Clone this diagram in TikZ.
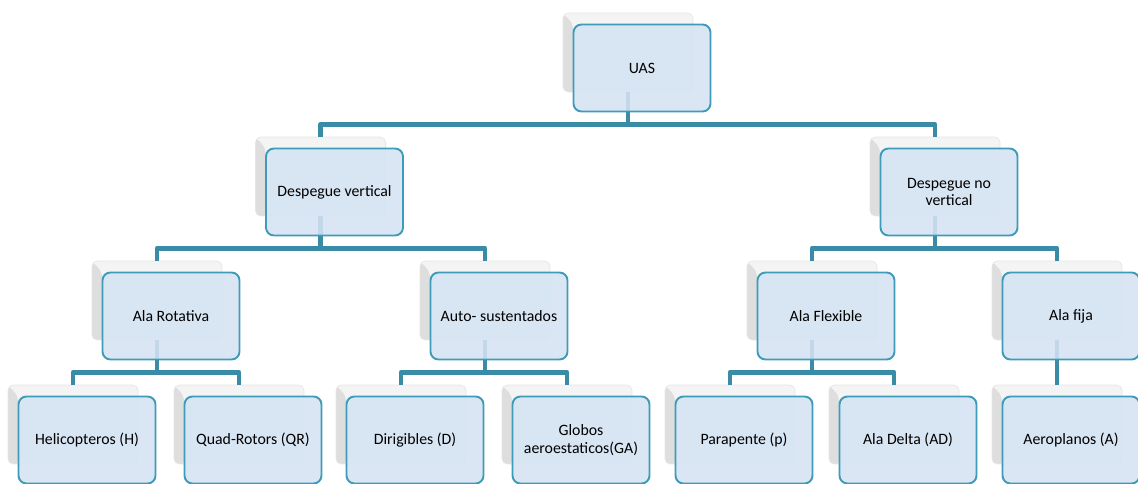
\documentclass[tikz,border=0pt]{standalone}
\usepackage{fontspec}
\setmainfont{Carlito}
\usetikzlibrary{calc}
\definecolor{boxfill}{HTML}{D5E3F3}
\definecolor{boxline}{HTML}{3E9CB8}
\definecolor{linkcol}{HTML}{3A8CA6}

\begin{document}
\begin{tikzpicture}[x=0.02cm,y=-0.02cm,line join=round]
\tikzstyle{back}=[draw=gray!20,fill=gray!9,rounded corners=3pt,minimum width=2.6cm,minimum height=1.58cm,inner sep=0pt,
  path picture={\fill[gray!26] (path picture bounding box.north west) -- ++(10,11) -- ++(0,70) -- ++(-10,0) -- cycle;}]
\tikzstyle{box}=[draw=boxline,line width=1.1pt,fill=boxfill,fill opacity=0.88,text opacity=1,rounded corners=4.5pt,
  minimum width=2.74cm,minimum height=1.74cm,inner sep=2pt,align=center]
\tikzstyle{link}=[draw=linkcol,line width=2.8pt]
\tikzset{font=\fontsize{9}{10}\selectfont}

\useasboundingbox (0,0) rectangle (1138,483);

        % back boxes
        \node[back] (bUAS)  at (628,52.5)   {};
        \node[back] (bDV)   at (320.5,176.5) {};
        \node[back] (bDNV)  at (935,176.5)  {};
        \node[back] (bAR)   at (157,300.5)  {};
        \node[back] (bAS)   at (485,300.5)  {};
        \node[back] (bAF)   at (812,300.5)  {};
        \node[back] (bFija) at (1057,300.5) {};
        \node[back] (bH)    at (73,424.5)   {};
        \node[back] (bQR)   at (239,424.5)  {};
        \node[back] (bD)    at (401,424.5)  {};
        \node[back] (bGA)   at (567,424.5)  {};
        \node[back] (bP)    at (730,424.5)  {};
        \node[back] (bAD)   at (894,424.5)  {};
        \node[back] (bA)    at (1057,424.5) {};

        % connectors
        \draw[link] (bUAS.south) -- ++(0,32) -| (bDV.north);
        \draw[link] (bUAS.south) -- ++(0,32) -| (bDNV.north);
        \draw[link] (bDV.south) -- ++(0,32) -| (bAR.north);
        \draw[link] (bDV.south) -- ++(0,32) -| (bAS.north);
        \draw[link] (bDNV.south) -- ++(0,32) -| (bAF.north);
        \draw[link] (bDNV.south) -- ++(0,32) -| (bFija.north);
        \draw[link] (bAR.south) -- ++(0,32) -| (bH.north);
        \draw[link] (bAR.south) -- ++(0,32) -| (bQR.north);
        \draw[link] (bAS.south) -- ++(0,32) -| (bD.north);
        \draw[link] (bAS.south) -- ++(0,32) -| (bGA.north);
        \draw[link] (bAF.south) -- ++(0,32) -| (bP.north);
        \draw[link] (bAF.south) -- ++(0,32) -| (bAD.north);
        \draw[link] (bFija.south) -- (bA.north);

        % front boxes
        \node[box] (UAS)  at ($(bUAS)+(14,15.5)$)  {UAS};
        \node[box] (DV)   at ($(bDV)+(14,15.5)$)   {Despegue vertical};
        \node[box] (DNV)  at ($(bDNV)+(14,15.5)$)  {Despegue no\\vertical};
        \node[box] (AR)   at ($(bAR)+(14,15.5)$)   {Ala Rotativa};
        \node[box] (AS)   at ($(bAS)+(14,15.5)$)   {Auto- sustentados};
        \node[box] (AF)   at ($(bAF)+(14,15.5)$)   {Ala Flexible};
        \node[box] (Fija) at ($(bFija)+(14,15.5)$) {Ala fija};
        \node[box] (H)    at ($(bH)+(14,15.5)$)    {Helicopteros (H)};
        \node[box] (QR)   at ($(bQR)+(14,15.5)$)   {Quad-Rotors (QR)};
        \node[box] (D)    at ($(bD)+(14,15.5)$)    {Dirigibles (D)};
        \node[box] (GA)   at ($(bGA)+(14,15.5)$)   {Globos\\aeroestaticos(GA)};
        \node[box] (P)    at ($(bP)+(14,15.5)$)    {Parapente (p)};
        \node[box] (AD)   at ($(bAD)+(14,15.5)$)   {Ala Delta (AD)};
        \node[box] (A)    at ($(bA)+(14,15.5)$)    {Aeroplanos (A)};

\end{tikzpicture}
\end{document}
